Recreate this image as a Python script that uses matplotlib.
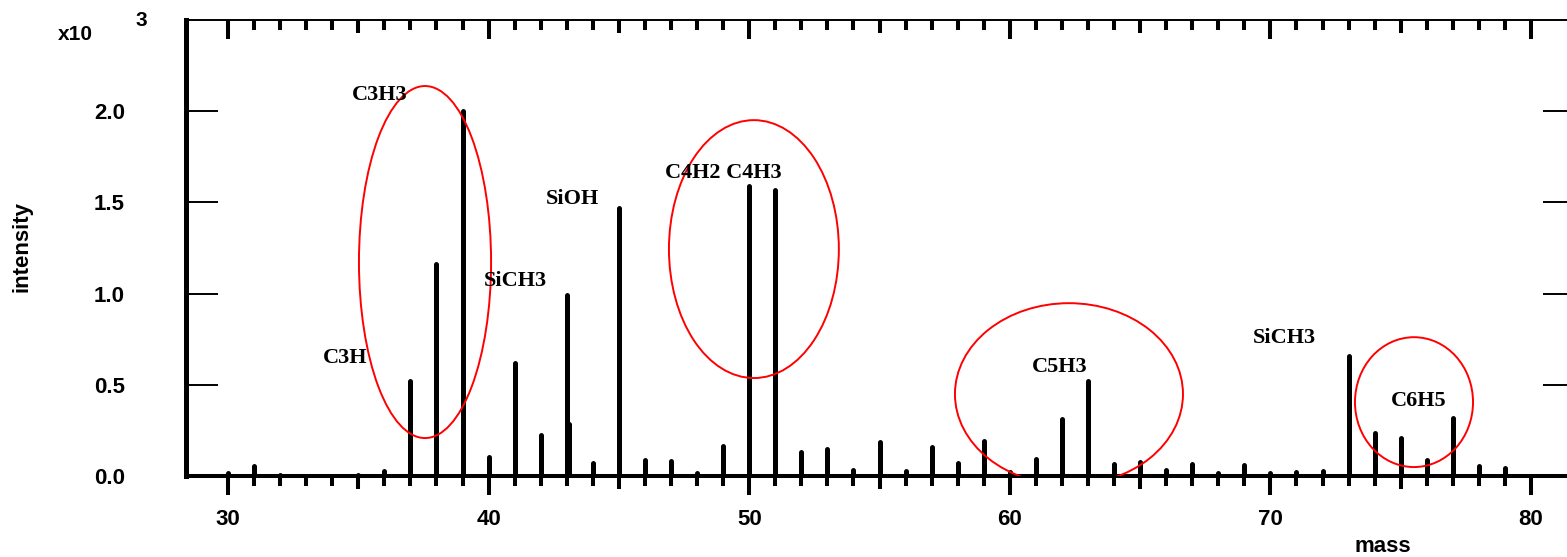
import matplotlib
matplotlib.use("Agg")
import matplotlib.pyplot as plt
from matplotlib.patches import Ellipse
from matplotlib.ticker import FixedLocator, NullFormatter

# mass spectrum, intensity in units of 10^3
masses = [30, 31, 32, 33, 34, 35, 36, 37, 38, 39, 40, 41, 42, 43, 43.08, 44, 45,
          46, 47, 48, 49, 50, 51, 52, 53, 54, 55, 56, 57, 58, 59, 60, 61, 62, 63,
          64, 65, 66, 67, 68, 69, 70, 71, 72, 73, 74, 75, 76, 77, 78, 79]
intensity = [0.018, 0.056, 0.003, 0.002, 0.002, 0.003, 0.027, 0.52, 1.16, 2.0,
             0.105, 0.62, 0.225, 0.99, 0.285, 0.072, 1.47,
             0.088, 0.082, 0.016, 0.166, 1.59, 1.57, 0.133, 0.146, 0.033, 0.186,
             0.029, 0.16, 0.073, 0.193, 0.024, 0.093, 0.31, 0.52,
             0.066, 0.075, 0.033, 0.068, 0.018, 0.062, 0.015, 0.02, 0.027, 0.66,
             0.237, 0.206, 0.088, 0.32, 0.055, 0.042]

# fragment labels (text, mass, intensity position)
frag_names = ["C3H3", "C3H", "SiCH3", "SiOH", "C4H2 C4H3", "C5H3", "SiCH3", "C6H5"]
frag_x = [35.83, 34.49, 41.01, 43.2, 48.99, 61.93, 70.52, 75.70]
frag_y = [2.088, 0.647, 1.068, 1.518, 1.66, 0.597, 0.756, 0.411]

# highlighted groups: centre mass, centre intensity, width, height
group_cx = [37.56, 50.18, 62.27, 75.51]
group_cy = [1.173, 1.244, 0.449, 0.405]
group_w = [5.07, 6.52, 8.75, 4.53]
group_h = [1.93, 1.414, 0.997, 0.712]

major_x = [30, 40, 50, 60, 70, 80]
minor_x = [m for m in range(31, 80) if m % 10 != 0]
y_ticks = [0.0, 0.5, 1.0, 1.5, 2.0]

sans = "Liberation Sans"
serif = "Liberation Serif"

fig = plt.figure(figsize=(15.67, 5.57), dpi=100)
ax = fig.add_axes([0.1187, 0.14542, 0.8864, 0.81867])
ax.set_xlim(28.388, 81.688)
ax.set_ylim(0, 2.5)

ax.vlines(masses, 0, intensity, colors="black", linewidth=3.6, capstyle="round", zorder=3)

for cx, cy, w, h in zip(group_cx, group_cy, group_w, group_h):
    ax.add_patch(Ellipse((cx, cy), w, h, fill=False, edgecolor="red", linewidth=1.4, zorder=4))

for name, x, y in zip(frag_names, frag_x, frag_y):
    ax.text(x, y, name, ha="center", va="center", fontsize=16, fontweight="bold",
            family=serif, zorder=5)

# spines
ax.spines["left"].set_linewidth(3.6)
ax.spines["bottom"].set_linewidth(2.9)
ax.spines["right"].set_visible(False)
ax.spines["top"].set_visible(False)

# bottom x ticks, pointing out
ax.xaxis.set_major_locator(FixedLocator(major_x))
ax.xaxis.set_minor_locator(FixedLocator(minor_x))
ax.xaxis.set_minor_formatter(NullFormatter())
ax.tick_params(axis="x", which="major", direction="out", length=13.7, width=2.9,
               pad=10, labelsize=16, top=False)
ax.tick_params(axis="x", which="minor", direction="out", length=7.2, width=2.9, top=False)
for lab in ax.get_xticklabels():
    lab.set_fontweight("bold")
    lab.set_family(sans)

# top x ticks, pointing in
top = ax.secondary_xaxis("top")
top.xaxis.set_major_locator(FixedLocator(major_x))
top.xaxis.set_minor_locator(FixedLocator(minor_x))
top.xaxis.set_minor_formatter(NullFormatter())
top.tick_params(axis="x", which="major", direction="in", length=13.7, width=2.9,
                labeltop=False)
top.tick_params(axis="x", which="minor", direction="in", length=7.2, width=2.9)
top.spines["top"].set_linewidth(1.4)

# mid-length ticks at every fifth mass
for axis in (ax.xaxis, top.xaxis):
    for loc, tick in zip(minor_x, axis.get_minor_ticks(len(minor_x))):
        if loc % 5 == 0:
            tick.tick1line.set_markersize(9.4)
            tick.tick2line.set_markersize(9.4)

# y ticks on both sides, pointing in
ax.set_yticks(y_ticks)
ax.set_yticklabels([f"{v:.1f}" for v in y_ticks])
ax.tick_params(axis="y", which="major", direction="in", length=23, width=1.4,
               pad=44, labelsize=16, right=True)
for lab in ax.get_yticklabels():
    lab.set_fontweight("bold")
    lab.set_family(sans)

fig.text(22 / 1567, 1 - 247 / 557, "intensity", rotation=90, ha="center", va="center",
         fontsize=16, fontweight="bold", family=sans)
fig.text(1383 / 1567, 1 - 551.5 / 557, "mass", ha="center", va="baseline",
         fontsize=16, fontweight="bold", family=sans)
fig.text(75 / 1567, 1 - 35 / 557, "x10", ha="center", va="center",
         fontsize=15, fontweight="bold", family=sans)
fig.text(141 / 1567, 1 - 21 / 557, "3", ha="center", va="center",
         fontsize=15, fontweight="bold", family=sans)

fig.savefig("out.png", dpi=100)
